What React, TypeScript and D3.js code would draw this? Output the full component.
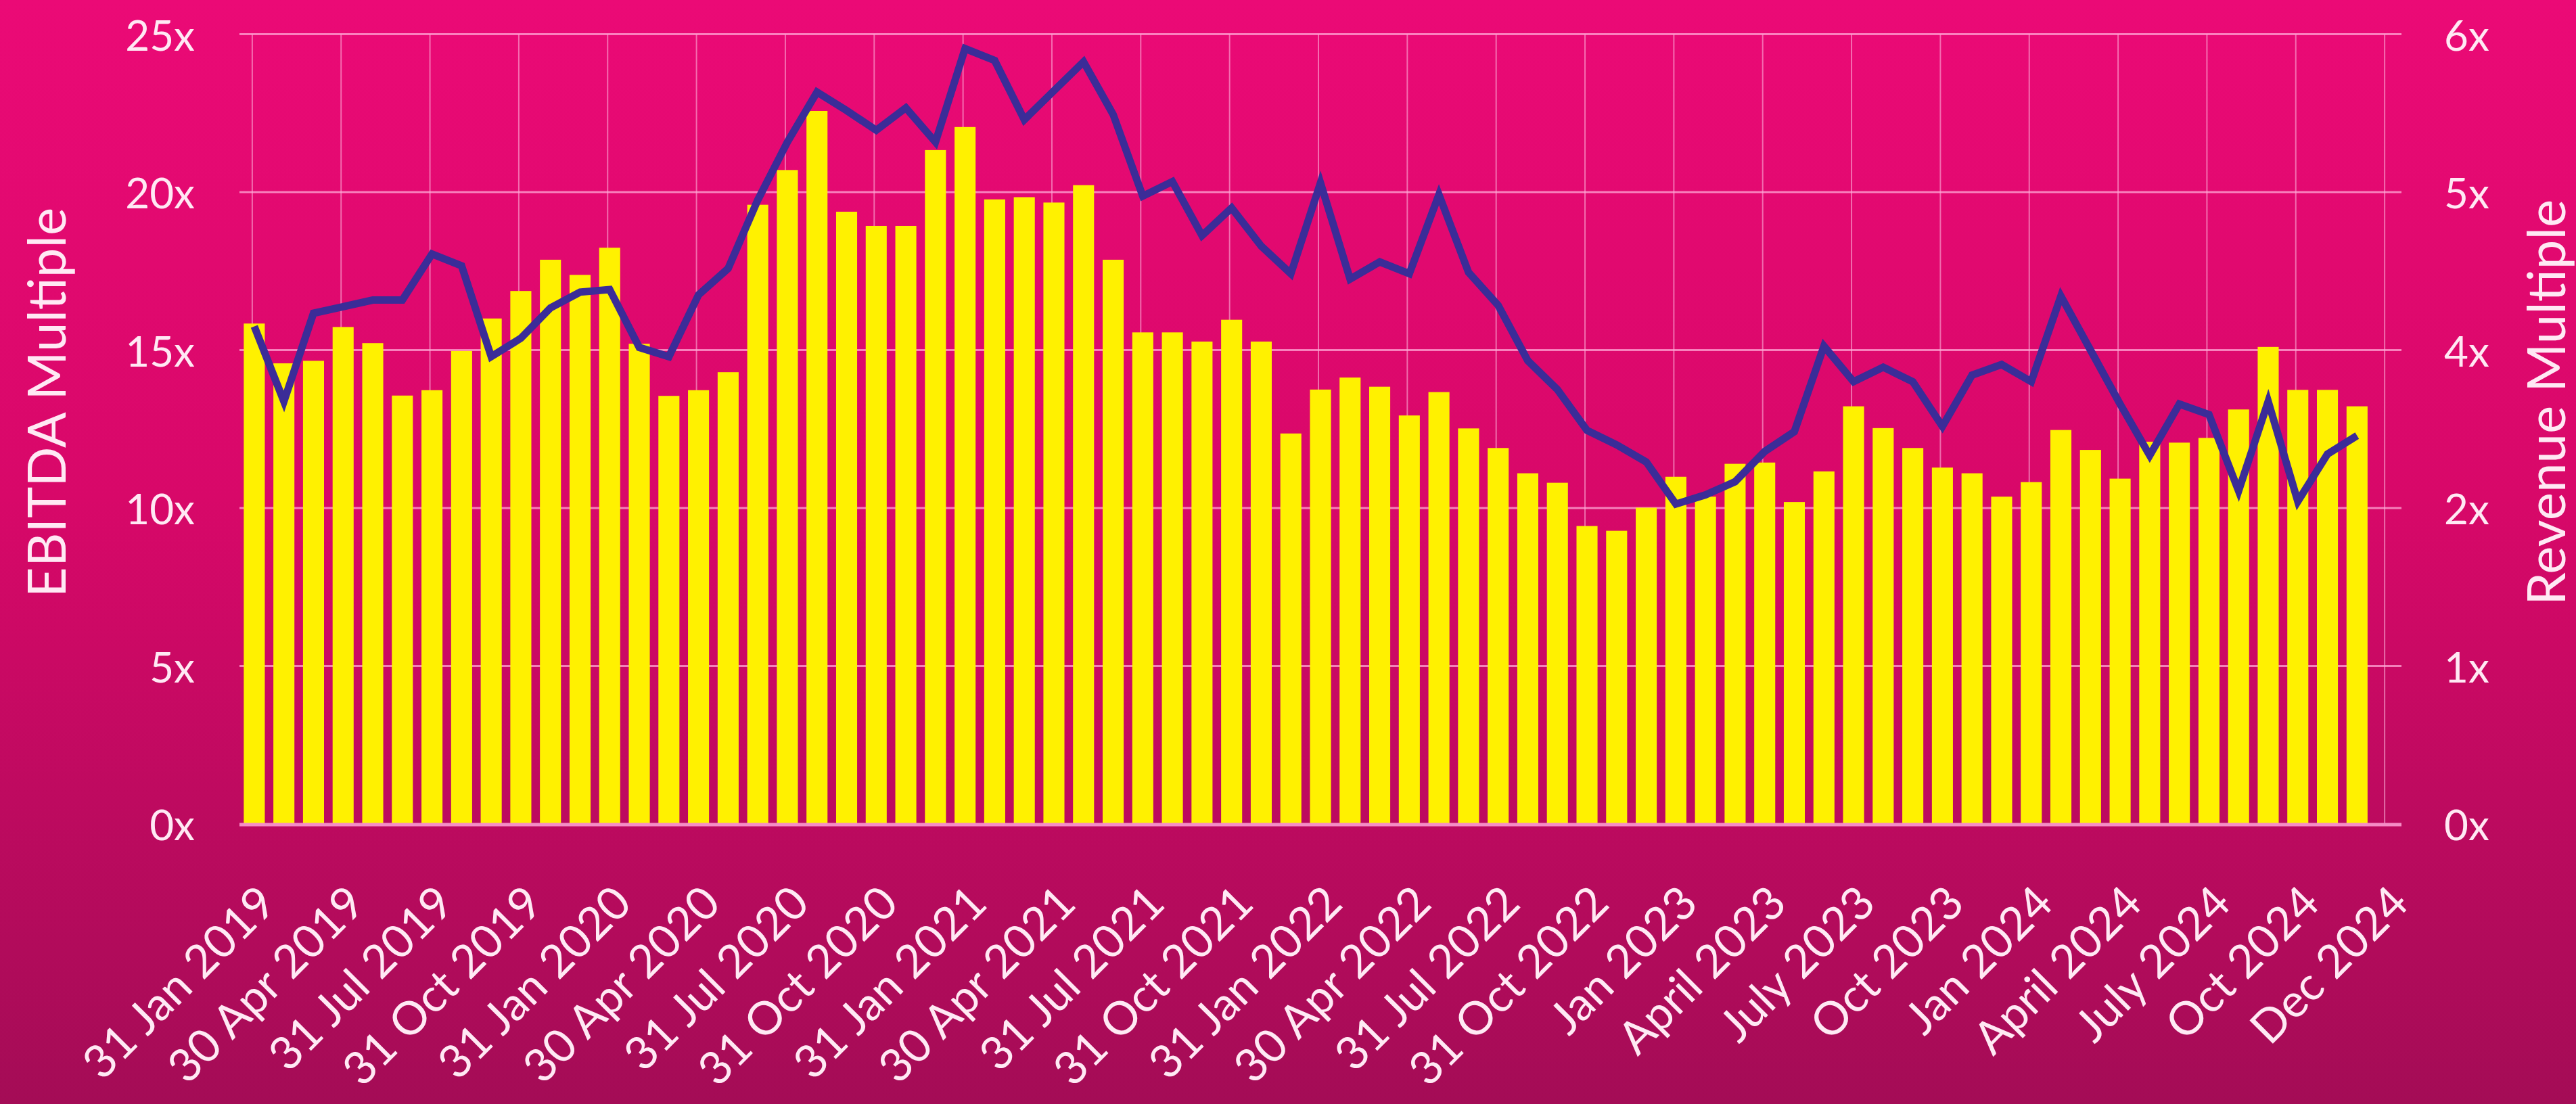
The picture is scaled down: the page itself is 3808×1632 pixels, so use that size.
import React from "react";
import * as d3 from "d3";

// ---------- data ----------
const ebitdaMultiple: number[] = [
  15.84, 14.58, 14.66, 15.73, 15.22, 13.56, 13.73, 14.97, 16.0, 16.87, 17.86, 17.38,
  18.24, 15.2, 13.55, 13.73, 14.3, 19.6, 20.7, 22.57, 19.38, 18.93, 18.93, 21.33,
  22.06, 19.77, 19.84, 19.67, 20.22, 17.86, 15.56, 15.56, 15.27, 15.96, 15.27, 12.36,
  13.75, 14.13, 13.84, 12.93, 13.67, 12.52, 11.9, 11.1, 10.8, 9.43, 9.28, 10.01,
  10.99, 10.36, 11.4, 11.44, 10.19, 11.16, 13.22, 12.53, 11.9, 11.28, 11.1, 10.36,
  10.82, 12.47, 11.84, 10.93, 12.1, 12.07, 12.22, 13.12, 15.1, 13.74, 13.74, 13.22,
];

const revenueMultiple: number[] = [
  3.78, 3.21, 3.88, 3.93, 3.98, 3.98, 4.33, 4.24, 3.55, 3.69, 3.92, 4.04,
  4.06, 3.62, 3.55, 4.02, 4.22, 4.74, 5.18, 5.56, 5.42, 5.27, 5.44, 5.18,
  5.89, 5.8, 5.35, 5.57, 5.79, 5.39, 4.77, 4.88, 4.47, 4.68, 4.39, 4.18,
  4.87, 4.14, 4.27, 4.18, 4.78, 4.19, 3.94, 3.52, 3.3, 2.99, 2.88, 2.75,
  2.43, 2.5, 2.6, 2.83, 2.98, 3.63, 3.36, 3.47, 3.36, 3.02, 3.41, 3.49,
  3.36, 4.01, 3.6, 3.19, 2.8, 3.19, 3.11, 2.53, 3.21, 2.45, 2.81, 2.95,
];

const tickLabels: string[] = [
  "31 Jan 2019", "30 Apr 2019", "31 Jul 2019", "31 Oct 2019",
  "31 Jan 2020", "30 Apr 2020", "31 Jul 2020", "31 Oct 2020",
  "31 Jan 2021", "30 Apr 2021", "31 Jul 2021", "31 Oct 2021",
  "31 Jan 2022", "30 Apr 2022", "31 Jul 2022", "31 Oct 2022",
  "Jan 2023", "April 2023", "July 2023", "Oct 2023",
  "Jan 2024", "April 2024", "July 2024", "Oct 2024", "Dec 2024",
];

const leftTicks: number[] = [0, 5, 10, 15, 20, 25];
// secondary axis: major unit 1.2, labels shown rounded to whole numbers
const rightTicks: number[] = [0, 1.2, 2.4, 3.6, 4.8, 6];

const leftTitle = "EBITDA Multiple";
const rightTitle = "Revenue Multiple";

// ---------- layout ----------
const W = 3808;
const H = 1632;
const plotLeft = 354;
const plotRight = 3550;
const plotTop = 50.5;
const plotBottom = 1218;
const slotCount = 73; // 72 monthly points + final labelled slot
const tickEvery = 3;

const FONT = "Lato, 'Open Sans', sans-serif";
const TEXT = "#FFE9F4";

export default function App() {
  const x = d3
    .scaleBand<number>()
    .domain(d3.range(slotCount))
    .range([plotLeft, plotRight])
    .paddingInner(0.29)
    .paddingOuter(0.145);
  const bw = x.bandwidth();
  const cx = (i: number) => (x(i) as number) + bw / 2;

  const yL = d3.scaleLinear().domain([0, 25]).range([plotBottom, plotTop]);
  const yR = d3.scaleLinear().domain([0, 6]).range([plotBottom, plotTop]);
  const fmtR = d3.format(".0f");

  const line = d3
    .line<number>()
    .x((_, i) => cx(i))
    .y((d) => yR(d))
    .curve(d3.curveLinear);

  const tickIdx = tickLabels.map((_, i) => i * tickEvery);

  return (
    <div style={{ position: "absolute", left: 0, top: 0, width: W, height: H }}>
      <svg width={W} height={H} viewBox={`0 0 ${W} ${H}`} style={{ display: "block" }}>
        <defs>
          <linearGradient id="bg" x1="0" y1="0" x2="0" y2="1">
            <stop offset="0%" stopColor="#EB0A76" />
            <stop offset="45%" stopColor="#D80869" />
            <stop offset="100%" stopColor="#A40C56" />
          </linearGradient>
        </defs>
        <rect x={0} y={0} width={W} height={H} fill="url(#bg)" />

        {/* vertical gridlines */}
        {tickIdx.map((i) => (
          <line
            key={"vg" + i}
            x1={cx(i) - 3}
            x2={cx(i) - 3}
            y1={plotTop}
            y2={plotBottom}
            stroke="rgba(255,190,225,0.55)"
            strokeWidth={2}
          />
        ))}
        {/* horizontal gridlines */}
        {leftTicks
          .filter((t) => t > 0)
          .map((t) => (
            <line
              key={"hg" + t}
              x1={plotLeft}
              x2={plotRight}
              y1={yL(t)}
              y2={yL(t)}
              stroke="rgba(255,170,215,0.75)"
              strokeWidth={3}
            />
          ))}

        {/* bars */}
        {ebitdaMultiple.map((v, i) => (
          <rect
            key={"b" + i}
            x={x(i) as number}
            y={yL(v)}
            width={bw}
            height={yL(0) - yL(v)}
            fill="#FFF100"
          />
        ))}

        {/* baseline */}
        <line
          x1={plotLeft}
          x2={plotRight}
          y1={plotBottom + 1}
          y2={plotBottom + 1}
          stroke="#F58DC6"
          strokeWidth={5}
        />

        {/* revenue line */}
        <path
          d={line(revenueMultiple) || ""}
          fill="none"
          stroke="#3B2C98"
          strokeWidth={11}
          strokeLinejoin="miter"
        />

        {/* left ticks */}
        {leftTicks.map((t) => (
          <text
            key={"lt" + t}
            x={288}
            y={yL(t)}
            textAnchor="end"
            dominantBaseline="central"
            fontFamily={FONT}
            fontSize={62}
            fill={TEXT}
          >
            {t + "x"}
          </text>
        ))}
        {/* right ticks */}
        {rightTicks.map((t) => (
          <text
            key={"rt" + t}
            x={3613}
            y={yR(t)}
            textAnchor="start"
            dominantBaseline="central"
            fontFamily={FONT}
            fontSize={62}
            fill={TEXT}
          >
            {fmtR(t) + "x"}
          </text>
        ))}

        {/* x labels */}
        {tickLabels.map((lab, k) => (
          <text
            key={"xl" + k}
            transform={`translate(${cx(tickIdx[k]) + 17},${1320}) rotate(-45)`}
            textAnchor="end"
            dominantBaseline="central"
            fontFamily={FONT}
            fontSize={68}
            fill={TEXT}
          >
            {lab}
          </text>
        ))}

        {/* axis titles */}
        <text
          transform={`translate(97,595) rotate(-90)`}
          textAnchor="middle"
          fontFamily={FONT}
          fontSize={78}
          fill={TEXT}
        >
          {leftTitle}
        </text>
        <text
          transform={`translate(3792,595) rotate(-90)`}
          textAnchor="middle"
          fontFamily={FONT}
          fontSize={78}
          fill={TEXT}
        >
          {rightTitle}
        </text>
      </svg>
    </div>
  );
}
